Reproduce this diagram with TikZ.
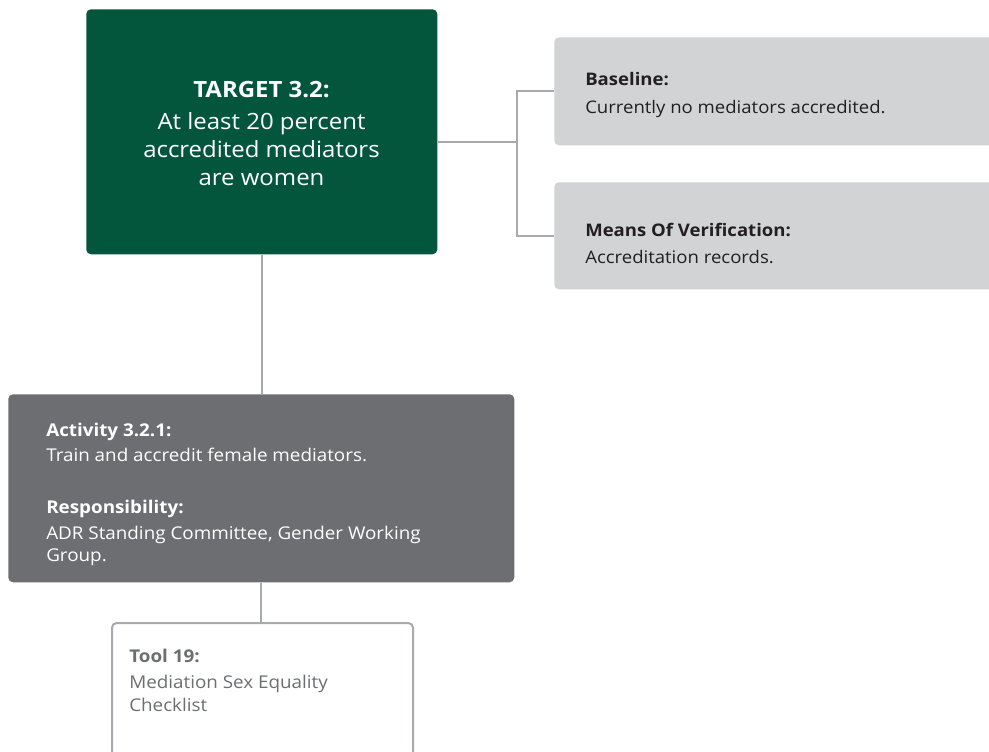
\documentclass[tikz,border=0pt]{standalone}
\usepackage{fontspec}
\setmainfont[FakeStretch=1.07]{Open Sans}
\definecolor{tgreen}{HTML}{03563B}
\definecolor{actgray}{HTML}{6D6E71}
\definecolor{lightbox}{HTML}{D1D3D4}
\definecolor{linegray}{HTML}{A7A9AC}
\definecolor{darktext}{HTML}{231F20}
\tikzset{
  box/.style={anchor=north west, inner sep=0pt, rounded corners=3.5pt},
  conn/.style={draw=linegray, line width=1.5pt},
  txt/.style={anchor=base west, inner sep=0pt},
  ctxt/.style={anchor=base, inner sep=0pt, text=white, font=\fontsize{16.8}{20}\selectfont},
  graytxt/.style={txt, text=darktext, font=\fontsize{13}{15}\selectfont},
  acttxt/.style={txt, text=white, font=\fontsize{13.2}{16}\selectfont},
  tooltxt/.style={txt, text=actgray, font=\fontsize{13.2}{16}\selectfont},
}
\begin{document}
\begin{tikzpicture}[x=0.75pt,y=-0.75pt]
\useasboundingbox (0,0) rectangle (989,751);
\clip (0,0) rectangle (989,751);
\fill[white] (0,0) rectangle (989,751);
% boxes
\node[box, fill=tgreen, minimum width=263.25pt, minimum height=183.75pt] (green) at (86,9) {};
\node[box, fill=lightbox, minimum width=345pt, minimum height=81pt] (base) at (554,37) {};
\node[box, fill=lightbox, minimum width=345pt, minimum height=80.25pt] (mov) at (554,182) {};
\node[box, fill=actgray, minimum width=379.5pt, minimum height=141pt] (act) at (8,394) {};
\node[box, draw=linegray, line width=1.5pt, fill=white, minimum width=225.75pt, minimum height=105pt] (tool) at (111,622) {};
% connectors
\coordinate (j) at (517,142);
\draw[conn] (green.east |- j) -- (j);
\draw[conn] (j) |- (base.west);
\draw[conn] (j) |- (mov.west);
\draw[conn] (green.south) -- (green.south |- act.north);
\draw[conn] (act.south) -- (act.south |- tool.north);
% green text
\node[ctxt] (t1) at (261.5,97) {\bfseries TARGET 3.2:};
\node[ctxt] (t2) at (261.5,129) {At least 20 percent};
\node[ctxt] (t3) at (261.5,157) {accredited mediators};
\node[ctxt] (t4) at (261.5,185) {are women};
% gray boxes
\node[graytxt] (b1) at (585,85) {\bfseries Baseline:};
\node[graytxt] (b2) at (585,113) {Currently no mediators accredited.};
\node[graytxt] (m1) at (585,236) {\bfseries Means Of Verification:};
\node[graytxt] (m2) at (585,263) {Accreditation records.};
% activity
\node[acttxt] (a1) at (46,436) {\bfseries Activity 3.2.1:};
\node[acttxt] (a2) at (46,461) {Train and accredit female mediators.};
\node[acttxt] (a3) at (46,513) {\bfseries Responsibility:};
\node[acttxt] (a4) at (46,539) {ADR Standing Committee, Gender Working};
\node[acttxt] (a5) at (46,561) {Group.};
% tool
\node[tooltxt] (o1) at (129,662) {\bfseries Tool 19:};
\node[tooltxt] (o2) at (129,688) {Mediation Sex Equality};
\node[tooltxt] (o3) at (129,711) {Checklist};
\end{tikzpicture}
\end{document}
